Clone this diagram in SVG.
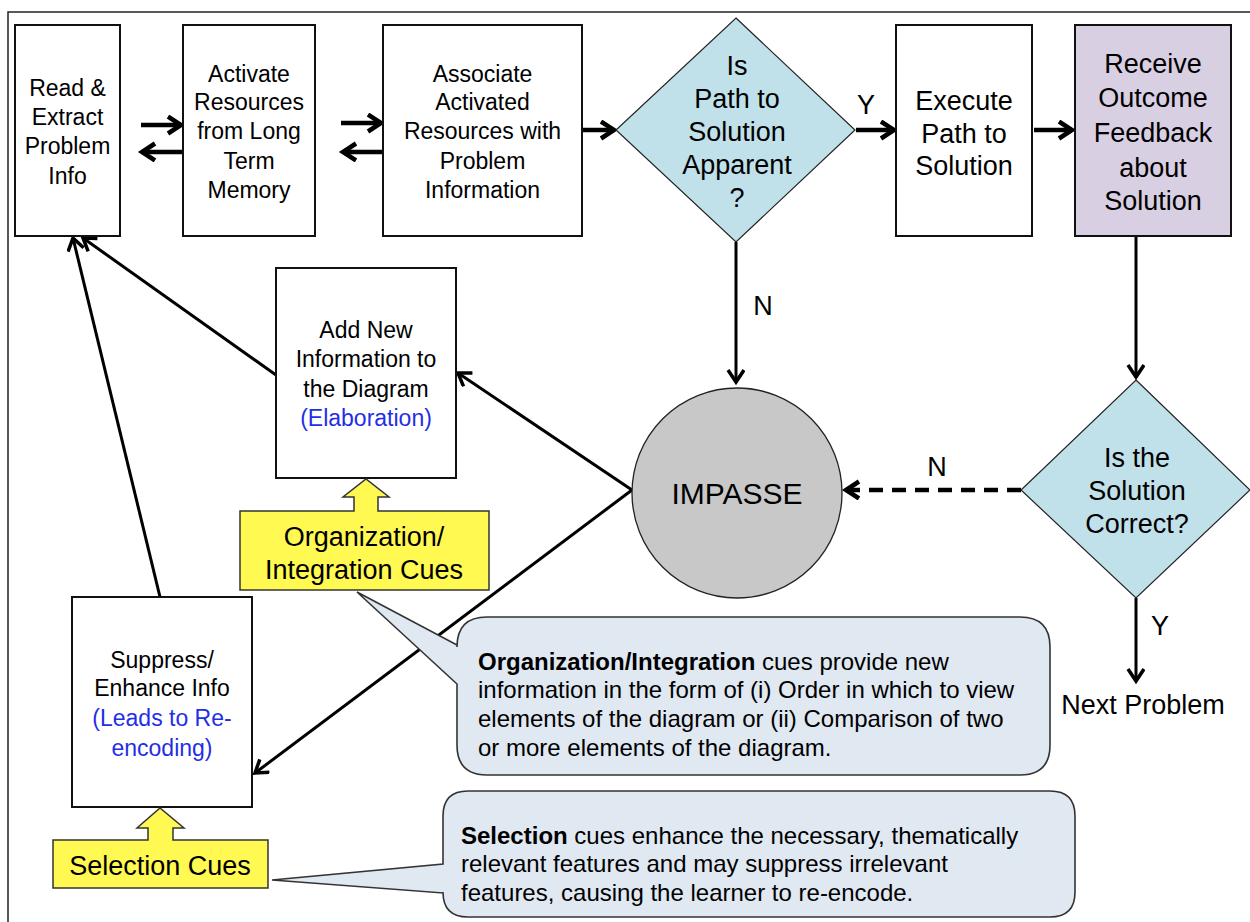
<svg xmlns="http://www.w3.org/2000/svg" width="1250" height="922" viewBox="0 0 1250 922">
<style>
text{font-family:"Liberation Sans",Arial,sans-serif;fill:#000;text-anchor:middle}
.box{fill:#fff;stroke:#111;stroke-width:2}
.dia{fill:#c0e1ea;stroke:#222;stroke-width:1.2}
.t23{font-size:23px}
.t27{font-size:27px}
.blue{fill:#1f2fe6}
.yel{fill:#fff952;stroke:#333;stroke-width:1.5}
.call{fill:#e0e8f2;stroke:#333;stroke-width:1.6}
.ct{font-size:24px;text-anchor:start}
.c{fill:none;stroke:#000;stroke-width:3}
.thick{stroke-width:4.5}
</style>
<defs>
<marker id="ah" markerUnits="userSpaceOnUse" markerWidth="20" markerHeight="22" refX="14" refY="9" orient="auto">
<path d="M2,1 L14,9 L2,17" fill="none" stroke="#000" stroke-width="3.5"/>
</marker>
<marker id="ahb" markerUnits="userSpaceOnUse" markerWidth="22" markerHeight="24" refX="15" refY="10" orient="auto">
<path d="M2,1.5 L15,10 L2,18.5" fill="none" stroke="#000" stroke-width="4.5"/>
</marker>
</defs>
<rect x="8" y="12" width="1260" height="930" fill="none" stroke="#222" stroke-width="1.5"/>

<g id="connectors">
<line class="c thick" x1="141" y1="125" x2="181" y2="125" marker-end="url(#ahb)"/>
<line class="c thick" x1="182" y1="152" x2="142" y2="152" marker-end="url(#ahb)"/>
<line class="c thick" x1="341" y1="123" x2="381" y2="123" marker-end="url(#ahb)"/>
<line class="c thick" x1="383" y1="152" x2="343" y2="152" marker-end="url(#ahb)"/>
<line class="c thick" x1="582" y1="130" x2="614" y2="130" marker-end="url(#ahb)"/>
<line class="c thick" x1="856" y1="130" x2="894" y2="130" marker-end="url(#ahb)"/>
<line class="c thick" x1="1034" y1="130" x2="1072" y2="130" marker-end="url(#ahb)"/>
<line class="c" x1="736" y1="242" x2="736" y2="382" marker-end="url(#ah)"/>
<line class="c" x1="1136" y1="236" x2="1136" y2="377" marker-end="url(#ah)"/>
<line class="c thick" x1="1021" y1="490" x2="846" y2="490" stroke-dasharray="14 9" marker-end="url(#ahb)"/>
<line class="c" x1="1136" y1="598" x2="1136" y2="681" marker-end="url(#ah)"/>
<line class="c" x1="632" y1="490" x2="458" y2="373" marker-end="url(#ah)"/>
<line class="c" x1="632" y1="490" x2="255" y2="773" marker-end="url(#ah)"/>
<line class="c" x1="276" y1="375" x2="83" y2="238" marker-end="url(#ah)"/>
<line class="c" x1="160" y1="597" x2="73" y2="238" marker-end="url(#ah)"/>
<text x="866" y="114" style="font-size:27px">Y</text>
<text x="763" y="315" style="font-size:27px">N</text>
<text x="937" y="476" style="font-size:27px">N</text>
<text x="1160" y="635" style="font-size:27px">Y</text>
</g>

<g id="read">
<rect class="box" x="15" y="25" width="105" height="211"/>
<text class="t23" x="67.5" y="96">Read &amp;</text>
<text class="t23" x="67.5" y="125">Extract</text>
<text class="t23" x="67.5" y="154">Problem</text>
<text class="t23" x="67.5" y="184">Info</text>
</g>
<g id="activate">
<rect class="box" x="183" y="25" width="132" height="211"/>
<text class="t23" x="249" y="82">Activate</text>
<text class="t23" x="249" y="110">Resources</text>
<text class="t23" x="249" y="139">from Long</text>
<text class="t23" x="249" y="169">Term</text>
<text class="t23" x="249" y="198">Memory</text>
</g>
<g id="associate">
<rect class="box" x="383" y="25" width="199" height="211"/>
<text class="t23" x="482.5" y="82">Associate</text>
<text class="t23" x="482.5" y="110">Activated</text>
<text class="t23" x="482.5" y="139">Resources with</text>
<text class="t23" x="482.5" y="169">Problem</text>
<text class="t23" x="482.5" y="198">Information</text>
</g>
<g id="path-apparent">
<polygon class="dia" points="736,18 855,130 736,242 616,130"/>
<text class="t27" x="737" y="75">Is</text>
<text class="t27" x="737" y="108">Path to</text>
<text class="t27" x="737" y="141">Solution</text>
<text class="t27" x="737" y="174">Apparent</text>
<text class="t27" x="737" y="207">?</text>
</g>
<g id="execute">
<rect class="box" x="896" y="25" width="136" height="211"/>
<text class="t27" x="964" y="110">Execute</text>
<text class="t27" x="964" y="143">Path to</text>
<text class="t27" x="964" y="175">Solution</text>
</g>
<g id="receive">
<rect x="1075" y="25" width="156" height="211" fill="#d8cfe2" stroke="#111" stroke-width="2"/>
<text class="t27" x="1153" y="73">Receive</text>
<text class="t27" x="1153" y="107">Outcome</text>
<text class="t27" x="1153" y="142">Feedback</text>
<text class="t27" x="1153" y="177">about</text>
<text class="t27" x="1153" y="210">Solution</text>
</g>
<g id="impasse">
<circle cx="737" cy="493" r="105" fill="#c8c8c8" stroke="#222" stroke-width="1.3"/>
<text x="737" y="504" style="font-size:30px">IMPASSE</text>
</g>
<g id="correct">
<polygon class="dia" points="1136,380 1250,490 1136,598 1021,490"/>
<text class="t27" x="1137" y="467">Is the</text>
<text class="t27" x="1137" y="500">Solution</text>
<text class="t27" x="1137" y="533">Correct?</text>
</g>
<g id="next">
<text x="1143" y="714" style="font-size:27px">Next Problem</text>
</g>
<g id="add-new">
<rect class="box" x="276" y="268" width="180" height="210"/>
<text class="t23" x="366" y="338">Add New</text>
<text class="t23" x="366" y="367">Information to</text>
<text class="t23" x="366" y="397">the Diagram</text>
<text class="t23 blue" x="366" y="426">(Elaboration)</text>
</g>
<g id="org-cues">
<path class="yel" d="M240,511 H354 V497 H343 L366,479 L389,497 H378 V511 H489 V590 H240 Z"/>
<text class="t27" x="364" y="546">Organization/</text>
<text class="t27" x="364" y="579">Integration Cues</text>
</g>
<g id="suppress">
<rect class="box" x="72" y="597" width="180" height="210"/>
<text class="t23" x="162" y="668">Suppress/</text>
<text class="t23" x="162" y="696">Enhance Info</text>
<text class="t23 blue" x="162" y="726">(Leads to Re-</text>
<text class="t23 blue" x="162" y="756">encoding)</text>
</g>
<g id="sel-cues">
<path class="yel" d="M53,840 H148 V828 H137 L160,808 L184,828 H173 V840 H268 V888 H53 Z"/>
<text class="t27" x="160" y="875">Selection Cues</text>
</g>
<g id="org-callout">
<path class="call" d="M487,617 H1020 Q1050,617 1050,647 V745 Q1050,775 1020,775 H487 Q457,775 457,745 V684 L357,592 L457,645 V647 Q457,617 487,617 Z"/>
<text class="ct" x="478" y="670"><tspan font-weight="bold">Organization/Integration</tspan> cues provide new</text>
<text class="ct" x="478" y="698">information in the form of (i) Order in which to view</text>
<text class="ct" x="478" y="727">elements of the diagram or (ii) Comparison of two</text>
<text class="ct" x="478" y="756">or more elements of the diagram.</text>
</g>
<g id="sel-callout">
<path class="call" d="M468,791 H1050 Q1075,791 1075,816 V892 Q1075,917 1050,917 H468 Q443,917 443,892 V893 L272,880 L443,864 V816 Q443,791 468,791 Z"/>
<text class="ct" x="461" y="844"><tspan font-weight="bold">Selection</tspan> cues enhance the necessary, thematically</text>
<text class="ct" x="461" y="872">relevant features and may suppress irrelevant</text>
<text class="ct" x="461" y="901">features, causing the learner to re-encode.</text>
</g>
</svg>
